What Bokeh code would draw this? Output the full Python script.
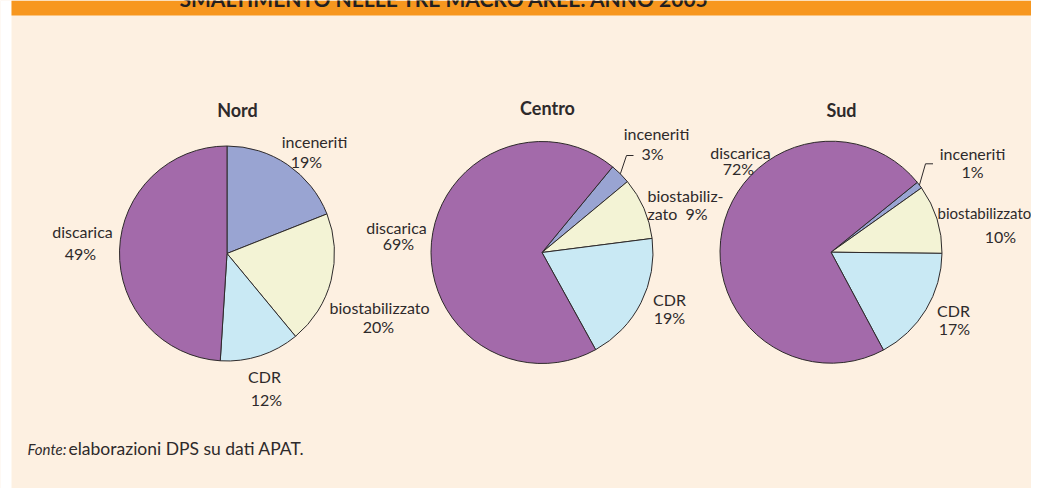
import math
from bokeh.plotting import figure
from bokeh.models import Range1d, ColumnDataSource
from bokeh.core.properties import value
from bokeh.embed import file_html
from bokeh.resources import INLINE

# ---------------- data ----------------
title = "SMALTIMENTO NELLE TRE MACRO AREE: ANNO 2005"
regions = ["Nord", "Centro", "Sud"]
categories = ["inceneriti", "biostabilizzato", "CDR", "discarica"]
nord = [19, 20, 12, 49]
centro = [3, 9, 19, 69]
sud = [1, 10, 17, 72]
source_label = "Fonte:"
source_note = "elaborazioni DPS su dati APAT."

# ---------------- style ----------------
W, H = 1031, 488
CREAM = "#FDF0E1"
ORANGE = "#F7971F"
INK = "#2E2A2B"
slice_colors = ["#99A4D2", "#F3F3D5", "#C9E9F4", "#A36AAA"]
FONT = "Lato"
FS = "16px"


def X(sx):
    return sx


def Y(sy):
    return H - sy


p = figure(width=W, height=H, x_range=Range1d(0, W), y_range=Range1d(0, H),
           output_backend="svg", toolbar_location=None, min_border=0)
p.axis.visible = False
p.grid.visible = False
p.outline_line_color = None
p.background_fill_color = CREAM
p.border_fill_color = CREAM

# white strip on the left and orange band on top
p.quad(left=[0], right=[11], bottom=[0], top=[H], fill_color="white", line_color=None)
p.quad(left=[11], right=[W], bottom=[Y(15)], top=[H], fill_color=ORANGE, line_color=None)

# pie geometry (screen coords of centre, radius, start offset clockwise from top in degrees)
pies = [
    (nord, 226.5, 253.0, 107.5, 0.0),
    (centro, 541.5, 252.0, 111.0, 39.5),
    (sud, 830.5, 251.7, 111.0, 51.0),
]

for vals, cx, cy, r, off in pies:
    total = float(sum(vals))
    starts, ends = [], []
    acc = off
    for v in vals:
        a0 = acc
        a1 = acc + v / total * 360.0
        starts.append(math.radians(90 - a0))
        ends.append(math.radians(90 - a1))
        acc = a1
    src = ColumnDataSource(dict(x=[X(cx)] * len(vals), y=[Y(cy)] * len(vals),
                                start=starts, end=ends, color=slice_colors,
                                cat=categories, val=vals))
    p.wedge(x="x", y="y", radius=r, start_angle="start", end_angle="end",
            direction="clock", fill_color="color", line_color=INK, line_width=1,
            source=src)


def txt(s, sx, sy, align="center", style="normal", size=FS, color=INK):
    p.text(x=[X(sx)], y=[Y(sy)], text=[s], text_align=align,
           text_baseline="alphabetic", text_font=value(FONT),
           text_font_size=size, text_font_style=style, text_color=color)


# header title (cut off by the top edge, as in the original)
txt(title, 179, -2, align="left", style="bold", size="21px", color="#231F20")

# titles
txt(regions[0], 237, 109, style="bold", size="18px")
txt(regions[1], 547, 107, style="bold", size="18px")
txt(regions[2], 841, 109, style="bold", size="18px")

# Nord labels
txt(categories[0], 314, 141)
txt(f"{nord[0]}%", 306, 161)
txt(categories[3], 82, 231)
txt(f"{nord[3]}%", 80, 253)
txt(categories[1], 379, 307)
txt(f"{nord[1]}%", 378, 326)
txt(categories[2], 264, 376)
txt(f"{nord[2]}%", 266, 399)

# Centro labels
txt(categories[0], 656, 133)
txt(f"{centro[0]}%", 652, 153)
txt("biostabiliz-", 647, 195, align="left")
txt("zato", 647, 213, align="left")
txt(f"{centro[1]}%", 707, 213, align="right")
txt(categories[3], 396, 227)
txt(f"{centro[3]}%", 398, 243)
txt(categories[2], 669, 299)
txt(f"{centro[2]}%", 669, 317)

# Sud labels
txt(categories[3], 740, 152)
txt(f"{sud[3]}%", 738, 168)
txt(categories[0], 972, 153)
txt(f"{sud[0]}%", 972, 171)
txt(categories[1], 937, 212, align="left", size="15px")
txt(f"{sud[1]}%", 1000, 236)
txt(categories[2], 953, 310)
txt(f"{sud[2]}%", 954, 328)


# leader lines for the small "inceneriti" slices
def leader(vals, cx, cy, r, off, ex, ey, hx):
    total = float(sum(vals))
    mid = off + vals[0] / total * 360.0 / 2.0
    th = math.radians(mid)
    px = cx + r * math.sin(th)
    py = cy - r * math.cos(th)
    p.line(x=[X(px), X(ex), X(hx)], y=[Y(py), Y(ey), Y(ey)], line_color=INK, line_width=1)


leader(centro, 541.5, 252.0, 111.0, 39.5, 626, 155, 633)
leader(sud, 830.5, 251.7, 111.0, 51.0, 925, 163.3, 932.5)

# footer
txt(source_label, 27, 448, align="left", style="italic", size="15px")
txt(source_note, 68, 448, align="left", size="17.5px")

open("out.html", "w").write(file_html(p, INLINE))
